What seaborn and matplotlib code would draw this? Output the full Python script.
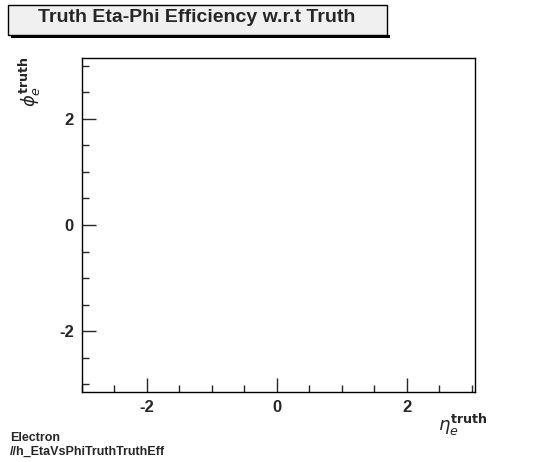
import matplotlib
matplotlib.use("Agg")
import matplotlib.pyplot as plt
import seaborn as sns
import numpy as np
import pandas as pd
from matplotlib.ticker import MultipleLocator
from matplotlib.patches import Rectangle

sns.set_style("white")
plt.rcParams['font.family'] = ['Liberation Sans', 'DejaVu Sans']

title = "Truth Eta-Phi Efficiency w.r.t Truth"
x_range = [-3.0, 3.05]
y_range = [-np.pi, np.pi]
x_ticks = [-2, 0, 2]
y_ticks = [-2, 0, 2]
eta_vals = []
phi_vals = []

W, H = 546, 462
fig = plt.figure(figsize=(W/100, H/100), dpi=100)
ax = fig.add_axes([82/W, 1-392/H, (475-82)/W, (392-58)/H])
df = pd.DataFrame({"eta": eta_vals, "phi": phi_vals}, dtype=float)
sns.scatterplot(data=df, x="eta", y="phi", ax=ax)
ax.set_xlim(*x_range)
ax.set_ylim(*y_range)
ax.set_xticks(x_ticks)
ax.set_yticks(y_ticks)
ax.set_xticklabels([str(t) for t in x_ticks], fontweight="bold", fontsize=12)
ax.set_yticklabels([str(t) for t in y_ticks], fontweight="bold", fontsize=12)
ax.xaxis.set_minor_locator(MultipleLocator(0.5))
ax.yaxis.set_minor_locator(MultipleLocator(0.5))
ax.tick_params(which="major", direction="in", length=10, width=1, bottom=True, left=True, pad=6)
ax.tick_params(which="minor", direction="in", length=5, width=1, bottom=True, left=True)
for s in ax.spines.values():
    s.set_color("black"); s.set_linewidth(1)
ax.set_xlabel(""); ax.set_ylabel("")
fig.text(438/W, 1-425/H, r"$\eta_e^{\bf truth}$", fontsize=13, ha="left", va="center")
fig.text(30/W, 1-82/H, r"$\phi_e^{\bf truth}$", fontsize=13, rotation=90, ha="center", va="center")

fig.patches.append(Rectangle((8/W, 1-35/H), (387-8)/W, 30/H, transform=fig.transFigure,
                             facecolor="#f0f0f0", edgecolor="black", lw=1))
fig.patches.append(Rectangle((11/W, 1-38/H), (387-8)/W, 3/H, transform=fig.transFigure,
                             facecolor="black", edgecolor="none", zorder=-1))
fig.text(197/W, 1-18/H, title, fontsize=14, fontweight="bold", ha="center", va="center")
fig.text(10/W, 1-438/H, "Electron", fontsize=9, fontweight="bold", va="center")
fig.text(10/W, 1-452/H, "//h_EtaVsPhiTruthTruthEff", fontsize=9, fontweight="bold", va="center")
fig.savefig("out.png", dpi=100, facecolor="white")
